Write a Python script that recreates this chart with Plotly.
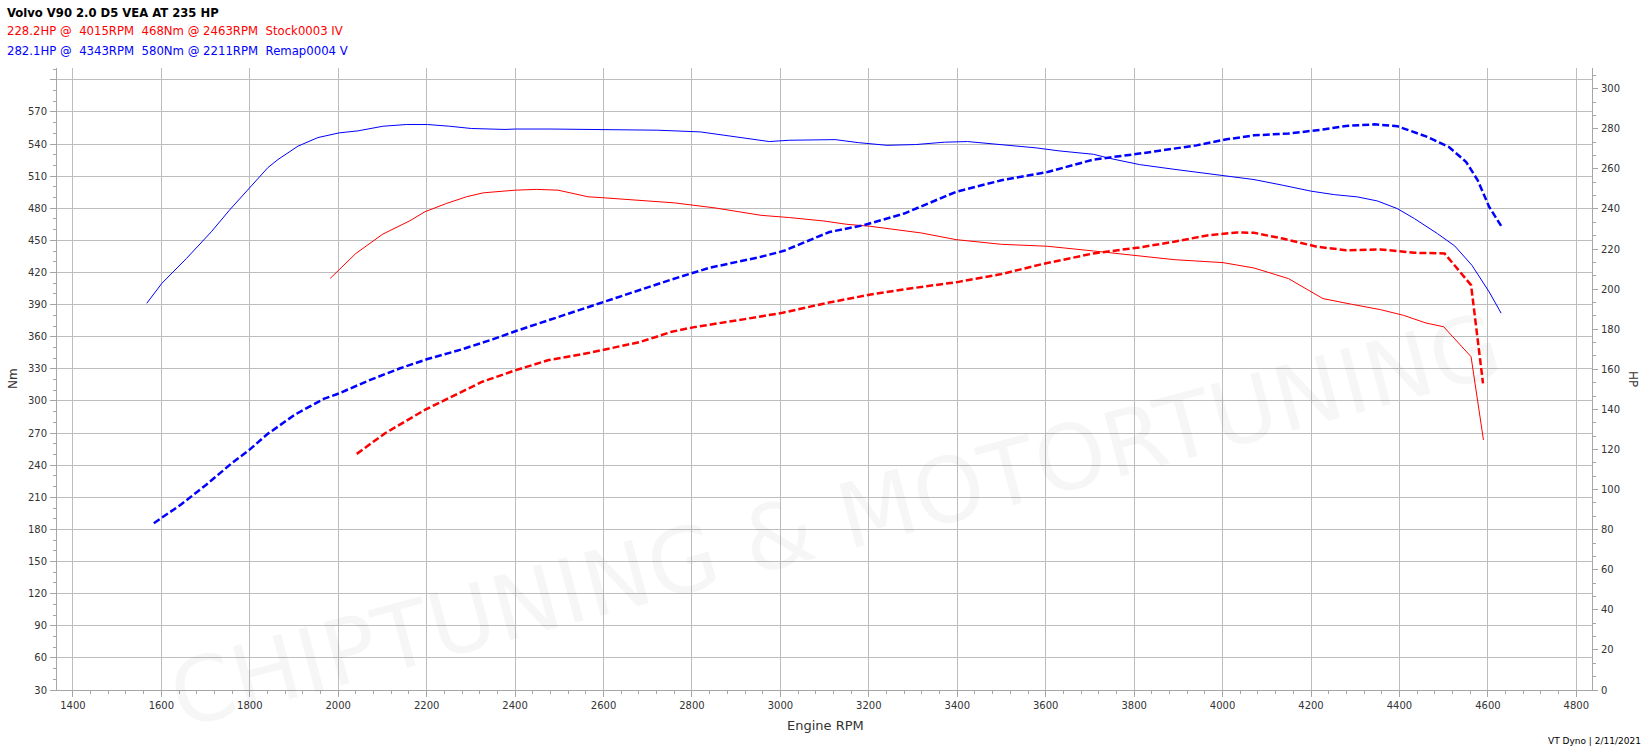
import plotly.graph_objects as go

# ---------------- data ----------------
stock_tq_rpm = [1982, 2040, 2101, 2162, 2196, 2245, 2290, 2328, 2401, 2448, 2497, 2531, 2565, 2592,
                2670, 2761, 2852, 2956, 3020, 3098, 3150, 3202, 3319, 3397, 3500, 3604, 3708, 3812,
                3890, 4001, 4071, 4149, 4227, 4292, 4357, 4409, 4460, 4500, 4562, 4590]
stock_tq_nm = [414.5, 437.8, 455.9, 468.3, 476.7, 484.5, 490.7, 494.4, 496.9, 497.6, 496.9, 493.8, 490.7, 490.0,
               487.5, 485.0, 480.3, 473.4, 471.3, 468.1, 465.0, 463.2, 456.9, 450.7, 446.3, 444.5, 440.1, 435.1,
               432.0, 429.2, 424.2, 414.3, 395.6, 390.3, 385.3, 380.0, 372.8, 369.3, 341.3, 263.6]

stock_hp_rpm = [2042, 2106, 2198, 2326, 2402, 2476, 2568, 2603, 2684, 2754, 2802, 2916, 3005, 3101,
                3204, 3293, 3403, 3500, 3591, 3708, 3812, 3890, 3968, 4033, 4071, 4136, 4214, 4279,
                4357, 4434, 4502, 4562, 4589]
stock_hp = [117.8, 128.1, 140.0, 153.8, 159.6, 164.6, 168.2, 169.9, 173.7, 178.7, 180.9, 184.9, 188.2, 192.9,
            197.3, 200.3, 203.6, 207.5, 212.4, 217.8, 220.8, 223.6, 226.9, 228.2, 228.1, 225.2, 221.1, 219.4,
            219.8, 218.1, 217.8, 202.0, 153.0]

remap_tq_rpm = [1567, 1601, 1657, 1713, 1754, 1801, 1841, 1864, 1909, 1954, 2002, 2045, 2101, 2154, 2202,
                2252, 2301, 2377, 2401, 2479, 2554, 2592, 2722, 2819, 2891, 2975, 3020, 3092, 3124, 3176,
                3241, 3306, 3371, 3423, 3500, 3578, 3630, 3708, 3747, 3812, 3890, 4001, 4071, 4136, 4201,
                4253, 4305, 4350, 4395, 4434, 4486, 4525, 4564, 4603, 4630]
remap_tq_nm = [391.2, 409.8, 433.2, 458.0, 478.2, 500.0, 518.0, 525.6, 538.0, 546.0, 550.4, 552.3, 556.6, 558.2, 558.2,
               556.6, 554.5, 553.6, 554.0, 554.0, 553.6, 553.5, 552.9, 551.3, 547.3, 542.3, 543.5, 544.1, 544.1, 541.3,
               538.8, 539.5, 541.7, 542.3, 539.5, 536.4, 533.6, 530.4, 526.4, 520.8, 516.4, 510.5, 506.8, 501.5, 495.9,
               492.7, 490.6, 486.8, 479.7, 470.3, 456.3, 444.8, 426.7, 401.8, 382.0]

remap_hp_rpm = [1583, 1643, 1701, 1759, 1799, 1840, 1903, 1967, 2002, 2071, 2140, 2202, 2279, 2349, 2402,
                2488, 2603, 2670, 2754, 2839, 2956, 3008, 3111, 3189, 3280, 3397, 3500, 3604, 3708, 3812,
                3941, 4006, 4071, 4149, 4227, 4279, 4344, 4396, 4460, 4512, 4551, 4577, 4603, 4630]
remap_hp = [83.2, 92.3, 102.3, 113.1, 119.8, 127.7, 137.5, 145.2, 148.0, 154.6, 160.5, 165.1, 169.9, 174.9, 179.1,
            185.4, 193.7, 198.6, 204.8, 210.6, 216.1, 219.1, 228.5, 231.9, 237.7, 248.5, 254.3, 258.4, 264.6, 267.6,
            271.7, 274.6, 276.7, 277.6, 279.6, 281.4, 282.2, 281.2, 276.2, 270.9, 263.4, 254.3, 241.0, 231.5]

x_ticks = list(range(1400, 4801, 200))
nm_ticks = list(range(30, 601, 30))
nm_labels = [str(v) if v <= 570 else "" for v in nm_ticks]
hp_ticks = list(range(0, 301, 20))

title_text = "Volvo V90 2.0 D5 VEA AT 235 HP"
stock_text = "228.2HP @\u00a0\u00a04015RPM\u00a0\u00a0468Nm @ 2463RPM\u00a0\u00a0Stock0003 IV"
remap_text = "282.1HP @\u00a0\u00a04343RPM\u00a0\u00a0580Nm @ 2211RPM\u00a0\u00a0Remap0004 V"
footer_text = "VT Dyno | 2/11/2021"
watermark_text = "CHIPTUNING & MOTORTUNING"

RED = "#ff0000"
BLUE = "#0000ff"
GRID = "#bdbdbd"
AXIS = "#a6a6a6"
TXT = "#333333"
WM = "rgba(0,0,0,0.035)"
FONT = "DejaVu Sans"

fig = go.Figure()
fig.add_trace(go.Scatter(x=stock_tq_rpm, y=stock_tq_nm, mode="lines",
                         line=dict(color=RED, width=1), yaxis="y", showlegend=False))
fig.add_trace(go.Scatter(x=stock_hp_rpm, y=stock_hp, mode="lines",
                         line=dict(color=RED, width=2.5, dash="7px,3px"), yaxis="y2", showlegend=False))
fig.add_trace(go.Scatter(x=remap_tq_rpm, y=remap_tq_nm, mode="lines",
                         line=dict(color=BLUE, width=1), yaxis="y", showlegend=False))
fig.add_trace(go.Scatter(x=remap_hp_rpm, y=remap_hp, mode="lines",
                         line=dict(color=BLUE, width=2.5, dash="7px,3px"), yaxis="y2", showlegend=False))

W, H = 1648, 754
ML, MR, MT, MB = 57, 56, 68, 64
PW, PH = W - ML - MR, H - MT - MB


def px(xp):
    return (xp - ML) / PW


def py(yp):
    return (H - MB - yp) / PH


fig.update_layout(
    width=W, height=H,
    margin=dict(l=ML, r=MR, t=MT, b=MB, pad=0),
    paper_bgcolor="white", plot_bgcolor="white",
    font=dict(family=FONT, size=10, color=TXT),
    xaxis=dict(range=[1364, 4835.5], tickmode="array", tickvals=x_ticks,
               showgrid=True, gridcolor=GRID, gridwidth=1, zeroline=False,
               showline=True, linecolor=AXIS, linewidth=1,
               ticks="outside", ticklen=6, tickcolor=AXIS, ticklabelstandoff=0,
               tickfont=dict(family=FONT, size=10, color=TXT),
               minor=dict(tick0=1400, dtick=40, ticks="outside", ticklen=3, tickcolor=AXIS, showgrid=False)),
    yaxis=dict(range=[30, 611], tickmode="array", tickvals=nm_ticks, ticktext=nm_labels,
               showgrid=True, gridcolor=GRID, gridwidth=1, zeroline=False,
               showline=True, linecolor=AXIS, linewidth=1,
               ticks="outside", ticklen=6, tickcolor=AXIS, ticklabelstandoff=1,
               tickfont=dict(family=FONT, size=10, color=TXT),
               minor=dict(tick0=30, dtick=10, ticks="outside", ticklen=3, tickcolor=AXIS, showgrid=False)),
    yaxis2=dict(range=[0, 310.3], overlaying="y", side="right", tickmode="array", tickvals=hp_ticks,
                showgrid=False, zeroline=False,
                showline=True, linecolor=AXIS, linewidth=1,
                ticks="outside", ticklen=5, tickcolor=AXIS, ticklabelstandoff=1,
                tickfont=dict(family=FONT, size=10, color=TXT),
                minor=dict(tick0=0, dtick=20 / 3, ticks="outside", ticklen=3, tickcolor=AXIS, showgrid=False)),
)

ann = [
    # faint background watermark
    dict(text=watermark_text, x=px(835), y=py(520), xanchor="center", yanchor="middle",
         textangle=-15, font=dict(family="DejaVu Sans", size=90, color=WM)),
    # texts
    dict(text="<b>" + title_text + "</b>", x=px(5), y=py(13), xanchor="left", yanchor="middle",
         font=dict(family=FONT, size=11.6, color="#000000")),
    dict(text=stock_text, x=px(5), y=py(31.5), xanchor="left", yanchor="middle",
         font=dict(family=FONT, size=11.7, color=RED)),
    dict(text=remap_text, x=px(5), y=py(50.5), xanchor="left", yanchor="middle",
         font=dict(family=FONT, size=11.7, color=BLUE)),
    dict(text="Engine RPM", x=px(825), y=py(725), xanchor="center", yanchor="middle",
         font=dict(family=FONT, size=13, color=TXT)),
    dict(text="Nm", x=px(13), y=py(379), xanchor="center", yanchor="middle", textangle=-90,
         font=dict(family=FONT, size=12, color=TXT)),
    dict(text="HP", x=px(1633), y=py(379), xanchor="center", yanchor="middle", textangle=90,
         font=dict(family=FONT, size=12, color=TXT)),
    dict(text=footer_text, x=px(1643), y=py(741), xanchor="right", yanchor="middle",
         font=dict(family=FONT, size=9, color="#000000")),
]
for a in ann:
    a.update(xref="paper", yref="paper", showarrow=False)
fig.update_layout(annotations=ann)

fig.write_html("out.html", config={"displayModeBar": False},
               post_script="document.body.style.margin='0';document.body.style.overflow='hidden';")
